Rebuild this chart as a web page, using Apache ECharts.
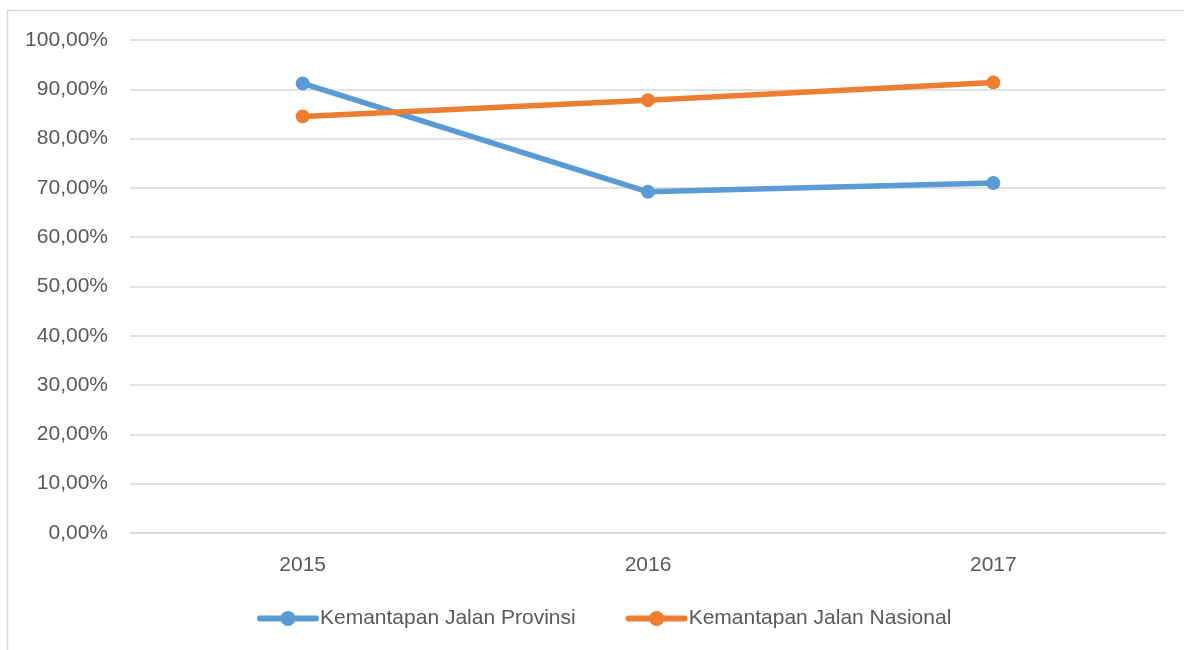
<!DOCTYPE html>
<html>
<head>
<meta charset="utf-8">
<script src="https://cdn.jsdelivr.net/npm/echarts@6/dist/echarts.min.js"></script>
<style>
  html, body { margin: 0; padding: 0; background: #fff; }
  #chart { width: 1184px; height: 650px; }
</style>
</head>
<body>
<div id="chart"></div>
<script>
const years = ["2015", "2016", "2017"];
const provinsi = [91.2, 69.2, 71.0];
const nasional = [84.5, 87.8, 91.4];
const seriesNames = ["Kemantapan Jalan Provinsi", "Kemantapan Jalan Nasional"];

const font = "'Liberation Sans', Arial, sans-serif";
const textColor = "#595959";

const chart = echarts.init(document.getElementById("chart"), null, { renderer: "canvas" });

function fmt(v) {
  return v.toFixed(2).replace(".", ",") + "%";
}

const option = {
  backgroundColor: "#fff",
  animation: false,
  graphic: [
    {
      type: "polyline",
      shape: { points: [[7.5, 650], [7.5, 10.5], [1184, 10.5]] },
      style: { stroke: "#D9D9D9", lineWidth: 1.5, fill: null }
    }
  ],
  grid: { left: 130, right: 18, top: 40, bottom: 117, containLabel: false },
  legend: {
    bottom: 16,
    left: 252,
    itemWidth: 56,
    itemHeight: 19,
    itemGap: 50,
    lineStyle: { width: 6 },
    textStyle: { color: textColor, fontSize: 21, fontFamily: font, padding: [0, 0, 0, -1] },
    data: seriesNames
  },
  xAxis: {
    type: "category",
    data: years,
    boundaryGap: true,
    axisLine: { show: true, lineStyle: { color: "#D9D9D9", width: 1.5 } },
    axisTick: { show: false },
    axisLabel: { color: textColor, fontSize: 21, fontFamily: font, margin: 22 }
  },
  yAxis: {
    type: "value",
    min: 0,
    max: 100,
    interval: 10,
    axisLine: { show: false },
    axisTick: { show: false },
    splitLine: { lineStyle: { color: "#D9D9D9", width: 1.5 } },
    axisLabel: { color: textColor, fontSize: 21, fontFamily: font, margin: 22, formatter: fmt }
  },
  series: [
    {
      name: seriesNames[0],
      type: "line",
      data: provinsi,
      symbol: "circle",
      symbolSize: 14,
      lineStyle: { color: "#5B9BD5", width: 5.5, cap: "round" },
      itemStyle: { color: "#5B9BD5" }
    },
    {
      name: seriesNames[1],
      type: "line",
      data: nasional,
      symbol: "circle",
      symbolSize: 14,
      lineStyle: { color: "#ED7D31", width: 5.5, cap: "round" },
      itemStyle: { color: "#ED7D31" }
    }
  ]
};

chart.setOption(option);
</script>
</body>
</html>
